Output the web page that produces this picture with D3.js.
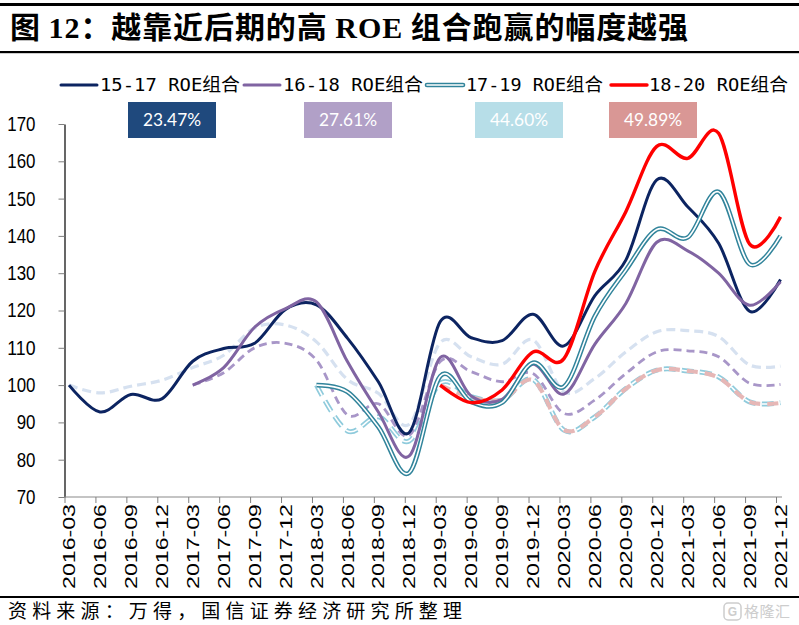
<!DOCTYPE html>
<html><head><meta charset="utf-8">
<script src="https://cdn.jsdelivr.net/npm/d3@7"></script>
<style>body{margin:0;background:#fff}svg{display:block}</style>
</head><body>
<svg id="c" width="799" height="625"></svg>
<script>
// ---------- data ----------
const quarters = ["2016-03","2016-06","2016-09","2016-12","2017-03","2017-06","2017-09","2017-12",
  "2018-03","2018-06","2018-09","2018-12","2019-03","2019-06","2019-09","2019-12",
  "2020-03","2020-06","2020-09","2020-12","2021-03","2021-06","2021-09","2021-12"];
const yTickValues = [70,80,90,100,110,120,130,140,150,160,170];
const seriesNames = ["15-17 ROE组合","16-18 ROE组合","17-19 ROE组合","18-20 ROE组合"];
const excessLabels = ["23.47%","27.61%","44.60%","49.89%"];
const N = null;
const roe1517 = [100,92.8,97.5,96.3,106.4,109.8,111.2,120.3,121.5,112.6,100.9,87.3,117,112.7,111.9,119,110.5,124,133.5,155,147.8,138,119.8,128.3];
const roe1618 = [N,N,N,N,100,104.7,115.5,120.5,122.3,106.3,92.8,81,107.4,97.1,96.2,105.6,97.6,111,121.9,138.3,136,130,121.4,127.7];
const roe1719 = [N,N,N,N,N,N,N,N,100,98.2,88.8,76.5,102.4,95.5,95.3,106,99.6,118.5,130.8,141.7,139.6,151.8,132.4,140];
const roe1820 = [N,N,N,N,N,N,N,N,N,N,N,N,100,95.3,98.7,108.9,107.1,130.5,146.5,164,160.8,167.5,137.8,145.1];
const bench1517 = [100,97.9,99.7,101.3,104.7,108,115.3,116.1,111.6,101.5,97.8,89.5,111.4,107.6,105.6,112.1,98.2,101.8,108.9,114.3,114.6,113,105.4,105.1];
const bench1618 = [N,N,N,N,100,103.3,110,111.2,106.7,92,95,86.5,106.3,103.6,100.9,103.1,92.4,96,103.1,108.9,109.2,107.6,100.5,100.2];
const bench1719 = [N,N,N,N,N,N,N,N,100,87.7,91.5,85,100.5,96.9,96,101.5,87.9,91.5,99.1,104,103.8,102.2,95.5,95.3];
const bench1820 = [N,N,N,N,N,N,N,N,N,N,N,N,100,96.7,96,101.3,88,91.5,99,104,103.8,102,95.5,95.2];

// ---------- setup ----------
const svg = d3.select("#c");
svg.append("rect").attr("width",799).attr("height",625).attr("fill","#fff");

// rules
svg.append("rect").attr("x",0).attr("y",3).attr("width",799).attr("height",3).attr("fill","#000");
svg.append("rect").attr("x",0).attr("y",51).attr("width",799).attr("height",2.2).attr("fill","#000");
svg.append("rect").attr("x",0).attr("y",596).attr("width",799).attr("height",2).attr("fill","#000");

// title
const title = svg.append("text").attr("x",10).attr("y",38)
  .attr("font-size",30).attr("font-weight",700)
  .attr("font-family","'Noto Sans CJK SC',sans-serif")
  .attr("textLength",678).attr("lengthAdjust","spacing").attr("fill","#000");
title.append("tspan").text("图 ");
title.append("tspan").attr("font-family","'Liberation Serif',serif").text("12");
title.append("tspan").text("：越靠近后期的高 ");
title.append("tspan").attr("font-family","'Liberation Serif',serif").text("ROE");
title.append("tspan").text(" 组合跑赢的幅度越强");

// footer
svg.append("text").attr("x",8).attr("y",618).attr("font-size",19)
  .attr("font-family","'Noto Sans CJK SC',sans-serif").attr("fill","#000")
  .attr("textLength",454).attr("lengthAdjust","spacing")
  .text("资料来源：万得，国信证券经济研究所整理");

// watermark
const wm = svg.append("g").attr("opacity",0.9);
wm.append("rect").attr("x",724).attr("y",603).attr("width",17).attr("height",17).attr("rx",4)
  .attr("fill","none").attr("stroke","#c8c8c8").attr("stroke-width",1.5);
wm.append("text").attr("x",732.5).attr("y",616).attr("text-anchor","middle").attr("font-size",12)
  .attr("font-weight",700).attr("font-family","'Liberation Sans',sans-serif").attr("fill","#c8c8c8").text("G");
wm.append("text").attr("x",744).attr("y",617).attr("font-size",15)
  .attr("font-family","'Noto Sans CJK SC',sans-serif").attr("fill","#c8c8c8")
  .attr("textLength",46).attr("lengthAdjust","spacing").text("格隆汇");

// ---------- scales ----------
const y = d3.scaleLinear().domain([70,170]).range([497,124]);
const xTick = d3.scalePoint().domain(quarters).range([64.5,776]);
const xData = d3.scalePoint().domain(quarters).range([69,780.5]);

// y axis
const ya = svg.append("g").attr("transform","translate(64.5,0)")
  .call(d3.axisLeft(y).tickValues(yTickValues).tickSize(6).tickSizeOuter(0).tickPadding(23));
ya.select(".domain").attr("stroke","#000").attr("stroke-width",1.2);
ya.selectAll(".tick line").attr("stroke","#7f7f7f");
ya.selectAll(".tick text").attr("font-size",20).attr("font-family","'Liberation Sans',sans-serif")
  .attr("fill","#000").attr("lengthAdjust","spacingAndGlyphs")
  .attr("textLength",d => String(d).length*9.4);

// x axis
const xa = svg.append("g").attr("transform","translate(0,497)")
  .call(d3.axisBottom(xTick).tickSize(6).tickSizeOuter(0).tickFormat(""));
xa.select(".domain").attr("d","M64.5,0H782").attr("stroke","#8a8a8a").attr("stroke-width",1.2);
xa.selectAll(".tick line").attr("stroke","#7f7f7f");

svg.append("g").selectAll("text").data(quarters).join("text")
  .attr("transform",d => `translate(${xData(d)},504) rotate(-90)`)
  .attr("text-anchor","end").attr("dy","0.36em")
  .attr("font-size",17).attr("font-family","'Liberation Sans',sans-serif").attr("fill","#000")
  .attr("textLength",85).attr("lengthAdjust","spacingAndGlyphs")
  .text(d => d);

// ---------- lines ----------
const line = d3.line()
  .defined(v => v != null)
  .x((v,i) => xData(quarters[i]))
  .y(v => y(v))
  .curve(d3.curveCardinal.tension(0));

const plot = svg.append("g").attr("fill","none").attr("stroke-linejoin","round");
function draw(data, color, width, dash, cap) {
  plot.append("path").attr("d",line(data)).attr("stroke",color).attr("stroke-width",width)
    .attr("stroke-dasharray",dash || null).attr("stroke-linecap",cap || "butt");
}
// benchmarks (dashed)
draw(bench1517,"#d6e1f0",3.2,"9,5");
draw(bench1618,"#a896c8",2.8,"8,5");
draw(bench1719,"#8fcbdc",5,"12,6");
draw(bench1719,"#ffffff",1.6,"12,6");
draw(bench1820,"#e6b7b6",4.2,"11,7");
// portfolios (solid)
draw(roe1517,"#0c2461",3);
draw(roe1618,"#8064a2",3);
draw(roe1719,"#31849b",4.6);
draw(roe1719,"#ffffff",1.6);
draw(roe1820,"#ff0000",3.4);

// ---------- legend ----------
const legendLayout = [
  {x1:61,x2:97,tx:100,tl:140},
  {x1:244,x2:280,tx:283,tl:140},
  {x1:427,x2:463,tx:466,tl:137},
  {x1:611,x2:647,tx:649,tl:139}];
const legendStyles = [
  [{c:"#0c2461",w:3}],
  [{c:"#8064a2",w:3}],
  [{c:"#31849b",w:4.6},{c:"#ffffff",w:1.6}],
  [{c:"#ff0000",w:3.4}]];
const lg = svg.append("g");
seriesNames.forEach((name,i) => {
  const L = legendLayout[i];
  legendStyles[i].forEach(s => lg.append("line").attr("x1",L.x1).attr("x2",L.x2)
    .attr("y1",85).attr("y2",85).attr("stroke",s.c).attr("stroke-width",s.w).attr("stroke-linecap","round"));
  lg.append("text").attr("x",L.tx).attr("y",85).attr("dy","0.36em")
    .attr("font-size",18).attr("font-family","'DejaVu Sans Mono','Noto Sans CJK SC',monospace")
    .attr("fill","#000").attr("textLength",L.tl).attr("lengthAdjust","spacingAndGlyphs").text(name);
});

// ---------- excess-return boxes ----------
const boxLayout = [{x:128,w:88,c:"#1f497d"},{x:304,w:88,c:"#b1a0c7"},{x:475,w:88,c:"#b7dee8"},{x:609,w:88,c:"#d99795"}];
const bx = svg.append("g");
excessLabels.forEach((t,i) => {
  const b = boxLayout[i];
  bx.append("rect").attr("x",b.x).attr("y",102).attr("width",b.w).attr("height",36).attr("fill",b.c);
  bx.append("text").attr("x",b.x+b.w/2).attr("y",120).attr("dy","0.36em").attr("text-anchor","middle")
    .attr("font-size",17).attr("font-family","Lato,'Open Sans',sans-serif").attr("fill","#fff")
    .attr("textLength",58).attr("lengthAdjust","spacingAndGlyphs").text(t);
});
</script>
</body></html>
